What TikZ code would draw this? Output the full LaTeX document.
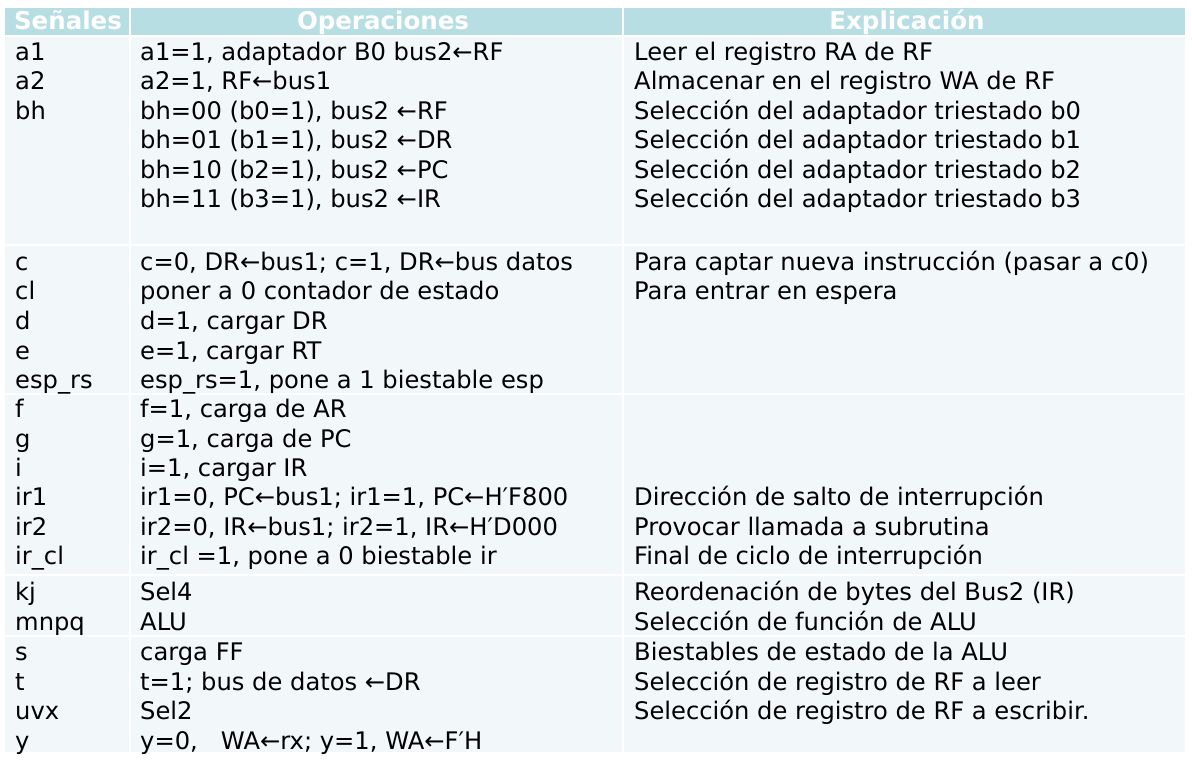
\documentclass[tikz,border=0pt]{standalone}
\usepackage{fontspec}
\setmainfont{DejaVu Sans}
\definecolor{hdrbg}{HTML}{B7DEE3}
\definecolor{bodybg}{HTML}{F2F7FA}
\begin{document}
\begin{tikzpicture}[x=1pt,y=-1pt,
  txt/.style={anchor=base west,inner sep=0pt,font=\fontsize{24.2}{28}\selectfont,text=black,yshift=-1.5pt},
  hdr/.style={anchor=base,inner sep=0pt,font=\fontsize{24.5}{28}\selectfont\bfseries,text=white},
  sep/.style={white,line width=2pt}]
\useasboundingbox (0,0) rectangle (1192,762);
\fill[white] (0,0) rectangle (1192,762);
\fill[hdrbg] (5,8) rectangle (1185,36);
\fill[bodybg] (5,36) rectangle (1185,752);
% separators
\coordinate (hl) at (5,36);   \coordinate (hr) at (1185,36);
\coordinate (g1l) at (5,245); \coordinate (g1r) at (1185,245);
\coordinate (g2l) at (5,393.5); \coordinate (g2r) at (1185,393.5);
\coordinate (g3l) at (5,575); \coordinate (g3r) at (1185,575);
\coordinate (g4l) at (5,635.5); \coordinate (g4r) at (1185,635.5);
\coordinate (v1t) at (130,8); \coordinate (v1b) at (130,752);
\coordinate (v2t) at (623,8); \coordinate (v2b) at (623,752);
\draw[sep] (hl) -- (hr);
\draw[sep] (g1l) -- (g1r);
\draw[sep] (g2l) -- (g2r);
\draw[sep] (g3l) -- (g3r);
\draw[sep] (g4l) -- (g4r);
\draw[sep] (v1t) -- (v1b);
\draw[sep] (v2t) -- (v2b);
% header
\node[hdr] (h1) at (68,29.5) {Señales};
\node[hdr] (h2) at (383,29.5) {Operaciones};
\node[hdr] (h3) at (907,29.5) {Explicación};
% group 1
\node[txt] (s1) at (15,59) {a1};
\node[txt] (o1) at (140,59) {a1=1, adaptador B0 bus2←RF};
\node[txt] (e1) at (634,59) {Leer el registro RA de RF};
\node[txt] (s2) at (15,88.5) {a2};
\node[txt] (o2) at (140,88.5) {a2=1, RF←bus1};
\node[txt] (e2) at (634,88.5) {Almacenar en el registro WA de RF};
\node[txt] (s3) at (15,118) {bh};
\node[txt] (o3) at (140,118) {bh=00 (b0=1), bus2 ←RF};
\node[txt] (e3) at (634,118) {Selección del adaptador triestado b0};
\node[txt] (o4) at (140,147.5) {bh=01 (b1=1), bus2 ←DR};
\node[txt] (e4) at (634,147.5) {Selección del adaptador triestado b1};
\node[txt] (o5) at (140,177) {bh=10 (b2=1), bus2 ←PC};
\node[txt] (e5) at (634,177) {Selección del adaptador triestado b2};
\node[txt] (o6) at (140,206.5) {bh=11 (b3=1), bus2 ←IR};
\node[txt] (e6) at (634,206.5) {Selección del adaptador triestado b3};
% group 2
\node[txt] (s7) at (15,269) {c};
\node[txt] (o7) at (140,269) {c=0, DR←bus1; c=1, DR←bus datos};
\node[txt] (e7) at (634,269) {Para captar nueva instrucción (pasar a c0)};
\node[txt] (s8) at (15,298.5) {cl};
\node[txt] (o8) at (140,298.5) {poner a 0 contador de estado};
\node[txt] (e8) at (634,298.5) {Para entrar en espera};
\node[txt] (s9) at (15,328) {d};
\node[txt] (o9) at (140,328) {d=1, cargar DR};
\node[txt] (s10) at (15,357.5) {e};
\node[txt] (o10) at (140,357.5) {e=1, cargar RT};
\node[txt] (s11) at (15,387) {esp\_rs};
\node[txt] (o11) at (140,387) {esp\_rs=1, pone a 1 biestable esp};
% group 3
\node[txt] (s12) at (15,416) {f};
\node[txt] (o12) at (140,416) {f=1, carga de AR};
\node[txt] (s13) at (15,445.5) {g};
\node[txt] (o13) at (140,445.5) {g=1, carga de PC};
\node[txt] (s14) at (15,475) {i};
\node[txt] (o14) at (140,475) {i=1, cargar IR};
\node[txt] (s15) at (15,504) {ir1};
\node[txt] (o15) at (140,504) {ir1=0, PC←bus1; ir1=1, PC←H′F800};
\node[txt] (e15) at (634,504) {Dirección de salto de interrupción};
\node[txt] (s16) at (15,533.5) {ir2};
\node[txt] (o16) at (140,533.5) {ir2=0, IR←bus1; ir2=1, IR←H′D000};
\node[txt] (e16) at (634,533.5) {Provocar llamada a subrutina};
\node[txt] (s17) at (15,563) {ir\_cl};
\node[txt] (o17) at (140,563) {ir\_cl =1, pone a 0 biestable ir};
\node[txt] (e17) at (634,563) {Final de ciclo de interrupción};
% group 4
\node[txt] (s18) at (15,599) {kj};
\node[txt] (o18) at (140,599) {Sel4};
\node[txt] (e18) at (634,599) {Reordenación de bytes del Bus2 (IR)};
\node[txt] (s19) at (15,628.5) {mnpq};
\node[txt] (o19) at (140,628.5) {ALU};
\node[txt] (e19) at (634,628.5) {Selección de función de ALU};
% group 5
\node[txt] (s20) at (15,659) {s};
\node[txt] (o20) at (140,659) {carga FF};
\node[txt] (e20) at (634,659) {Biestables de estado de la ALU};
\node[txt] (s21) at (15,688.5) {t};
\node[txt] (o21) at (140,688.5) {t=1; bus de datos ←DR};
\node[txt] (e21) at (634,688.5) {Selección de registro de RF a leer};
\node[txt] (s22) at (15,718) {uvx};
\node[txt] (o22) at (140,718) {Sel2};
\node[txt] (e22) at (634,718) {Selección de registro de RF a escribir.};
\node[txt] (s23) at (15,747.5) {y};
\node[txt] (o23) at (140,747.5) {y=0,\ \ \ WA←rx; y=1, WA←F′H};
\end{tikzpicture}
\end{document}
